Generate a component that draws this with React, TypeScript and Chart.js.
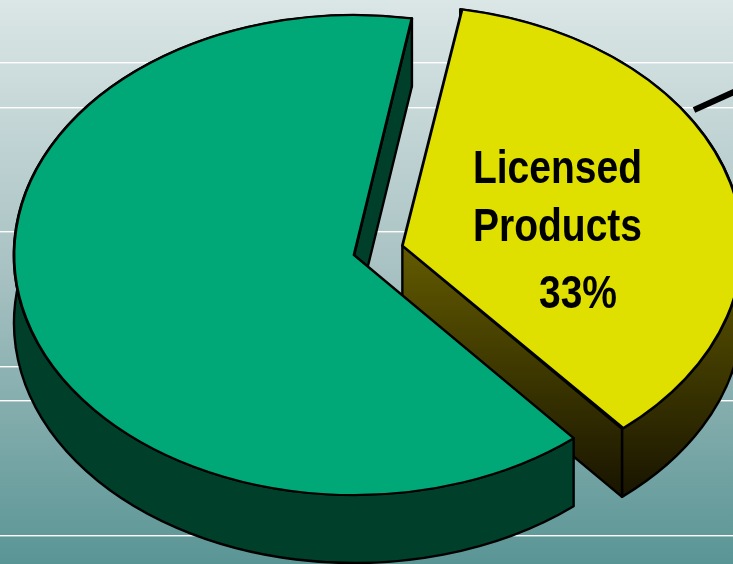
import React, { useEffect, useRef } from "react";
import { Chart, registerables } from "chart.js";

Chart.register(...registerables);

// Data (the drawn wedge is a little larger than the printed label)
const categories = ["Licensed Products", "Other"];
const sliceValues = [36.1, 63.9];
const sliceColors = ["#dfdf00", "#00a878"];
const labelLines = ["Licensed", "Products", "33%"];

// Layout and styling
const WIDTH = 733;
const HEIGHT = 564;
const CENTER = { x: 354, y: 255 };
const RADIUS = { x: 340, y: 240 };
const DEPTH = 68;
const FIRST_ANGLE = 9.8;
const EXPLODE = 128;
const STRIPES = [62, 107, 231, 366, 400, 535];
const LABEL_POS = [
  { x: 557.5, y: 183 },
  { x: 557.5, y: 241 },
  { x: 578, y: 308 },
];

function wallFill(ctx: CanvasRenderingContext2D, index: number) {
  if (index === 1) return "#00402a";
  const g = ctx.createLinearGradient(0, 245, 0, 494);
  g.addColorStop(0, "#635b00");
  g.addColorStop(1, "#191500");
  return g;
}

const pie3d = {
  id: "pie3d",
  beforeDraw(chart: any) {
    const ctx = chart.ctx;
    const bg = ctx.createLinearGradient(0, 0, 0, HEIGHT);
    bg.addColorStop(0, "#dbe6e6");
    bg.addColorStop(0.5, "#a6c0c1");
    bg.addColorStop(1, "#5a9595");
    ctx.save();
    ctx.fillStyle = bg;
    ctx.fillRect(0, 0, WIDTH, HEIGHT);
    ctx.fillStyle = "#ffffff";
    STRIPES.forEach((y) => ctx.fillRect(0, y, WIDTH, 1.4));
    ctx.restore();
  },
  beforeDatasetDraw(chart: any) {
    const ctx: CanvasRenderingContext2D = chart.ctx;
    const arcs = chart.getDatasetMeta(0).data;
    arcs.forEach((arc: any, i: number) => {
      const R = arc.outerRadius;
      const sx = RADIUS.x / R;
      const sy = RADIUS.y / R;
      const mid = (arc.startAngle + arc.endAngle) / 2;
      const off = (arc.options.offset || 0) / 4;
      const cx = CENTER.x + Math.cos(mid) * off * sx;
      const cy = CENTER.y + Math.sin(mid) * off * sy;
      const pt = (a: number) => ({
        x: cx + Math.cos(a) * RADIUS.x,
        y: cy + Math.sin(a) * RADIUS.y,
      });

      ctx.save();
      ctx.lineWidth = 2.4;
      ctx.lineJoin = "round";
      ctx.strokeStyle = "#000";
      ctx.fillStyle = wallFill(ctx, i);

      // outer rim
      ctx.beginPath();
      ctx.ellipse(cx, cy, RADIUS.x, RADIUS.y, 0, arc.startAngle, arc.endAngle);
      ctx.ellipse(cx, cy + DEPTH, RADIUS.x, RADIUS.y, 0, arc.endAngle, arc.startAngle, true);
      ctx.closePath();
      ctx.fill();
      ctx.stroke();

      // the radial wall that faces the viewer (the other one lies under the top face)
      [
        { a: arc.startAngle, isEnd: false },
        { a: arc.endAngle, isEnd: true },
      ].forEach(({ a, isEnd }) => {
        const visible = Math.cos(a) > 0 ? isEnd : !isEnd;
        if (!visible) return;
        const p = pt(a);
        ctx.beginPath();
        ctx.moveTo(cx, cy);
        ctx.lineTo(p.x, p.y);
        ctx.lineTo(p.x, p.y + DEPTH);
        ctx.lineTo(cx, cy + DEPTH);
        ctx.closePath();
        ctx.fill();
        ctx.stroke();
      });

      // top face: the library's own arc, squashed onto the ellipse.
      // Arc.draw widens an offset arc by offset * (1 - sin(circumference)); undo that here.
      const fix = 1 - Math.sin(Math.min(Math.PI, arc.circumference || 0));
      ctx.translate(CENTER.x, CENTER.y);
      ctx.scale(sx, sy);
      ctx.translate(-arc.x, -arc.y);
      arc.outerRadius = R - off * fix;
      arc.draw(ctx);
      arc.outerRadius = R;
      ctx.restore();
    });
    return false;
  },
  afterDraw(chart: any) {
    const ctx: CanvasRenderingContext2D = chart.ctx;
    ctx.save();
    ctx.strokeStyle = "#000";
    ctx.lineWidth = 6;
    ctx.beginPath();
    ctx.moveTo(694, 110);
    ctx.lineTo(736, 91);
    ctx.stroke();

    ctx.fillStyle = "#000";
    ctx.font = 'bold 47px "Liberation Sans", Arial, sans-serif';
    ctx.textAlign = "center";
    ctx.textBaseline = "alphabetic";
    labelLines.forEach((line, i) => {
      ctx.save();
      ctx.translate(LABEL_POS[i].x, LABEL_POS[i].y);
      ctx.scale(0.83, 1);
      ctx.fillText(line, 0, 0);
      ctx.restore();
    });
    ctx.restore();
  },
};

export default function App() {
  const ref = useRef<HTMLCanvasElement>(null);
  useEffect(() => {
    document.body.style.margin = "0";
    document.body.style.overflow = "hidden";
    const chart = new Chart(ref.current!, {
      type: "pie",
      data: {
        labels: categories,
        datasets: [
          {
            data: sliceValues,
            backgroundColor: sliceColors,
            borderColor: "#000000",
            borderWidth: 1.8,
            borderJoinStyle: "round",
            offset: [EXPLODE, 0],
            hoverOffset: 0,
          },
        ],
      },
      options: {
        responsive: false,
        animation: false,
        rotation: FIRST_ANGLE,
        layout: { padding: 0 },
        events: [],
        plugins: {
          legend: { display: false },
          title: { display: false },
          tooltip: { enabled: false },
        },
      },
      plugins: [pie3d],
    } as any);
    return () => chart.destroy();
  }, []);
  return (
    <div style={{ width: WIDTH, height: HEIGHT }}>
      <canvas ref={ref} width={WIDTH} height={HEIGHT} style={{ display: "block" }} />
    </div>
  );
}
